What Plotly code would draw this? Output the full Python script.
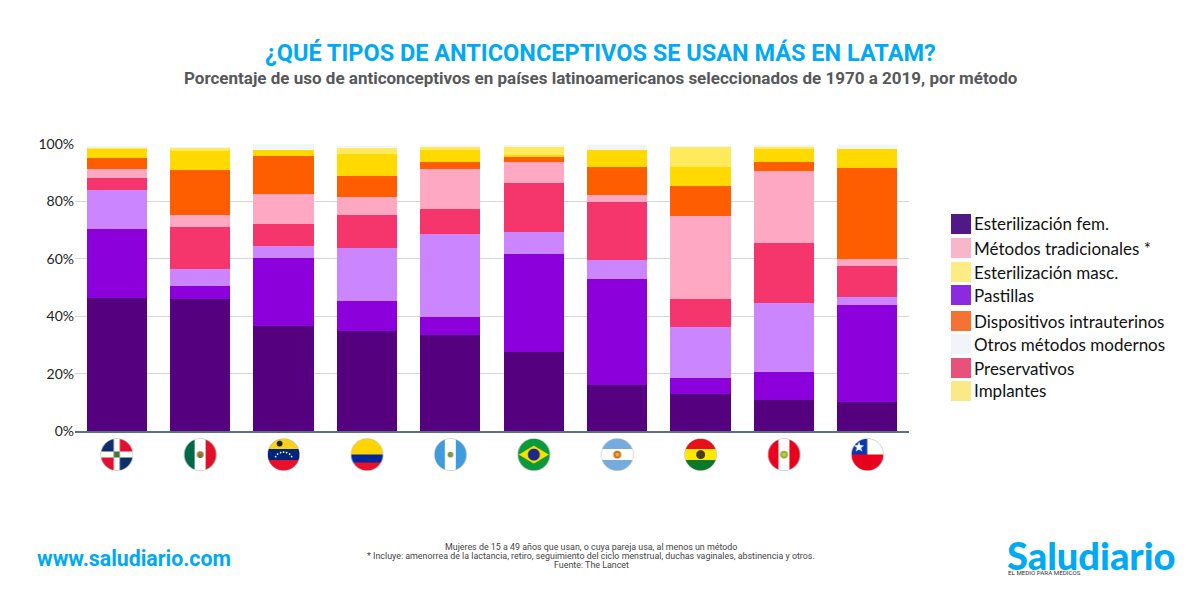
import base64
import struct
import zlib
import numpy as np
import plotly.graph_objects as go

# Countries in chart order
paises = ["República Dominicana", "México", "Venezuela", "Colombia", "Guatemala",
          "Brasil", "Argentina", "Bolivia", "Perú", "Chile"]

# Percent of use per method (bottom to top of the stack)
esterilizacion_fem = [46.2, 46.0, 36.5, 35.0, 33.4, 27.4, 16.1, 12.8, 10.9, 10.1]
pastillas = [24.2, 4.5, 23.9, 10.2, 6.3, 34.3, 37.0, 5.8, 9.8, 33.7]
inyectables = [13.6, 5.8, 4.1, 18.4, 28.9, 7.6, 6.6, 17.8, 23.9, 2.8]
preservativos = [4.3, 14.7, 7.5, 11.5, 8.8, 17.2, 20.1, 9.6, 20.8, 10.9]
tradicionales = [2.9, 4.4, 10.7, 6.3, 13.8, 7.2, 2.5, 28.8, 25.1, 2.3]
diu = [3.8, 15.7, 13.1, 7.5, 2.6, 2.1, 9.6, 10.4, 3.3, 31.7]
implantes = [3.6, 6.5, 2.2, 7.6, 4.2, 0.25, 6.0, 6.9, 4.6, 6.8]
esterilizacion_masc = [0.3, 1.1, 0.0, 2.2, 1.3, 3.0, 0.0, 6.9, 0.4, 0.0]
otros = [0.2, 0.2, 1.9, 0.3, 0.2, 0.3, 1.9, 0.2, 1.0, 1.2]

series = [
    ("Esterilización fem.", esterilizacion_fem, "#55007f"),
    ("Pastillas", pastillas, "#8c00dc"),
    ("Inyectables", inyectables, "#cb85ff"),
    ("Preservativos", preservativos, "#f5366c"),
    ("Métodos tradicionales *", tradicionales, "#ffa8c3"),
    ("Dispositivos intrauterinos", diu, "#ff5e00"),
    ("Implantes", implantes, "#ffd900"),
    ("Esterilización masc.", esterilizacion_masc, "#ffea5e"),
    ("Otros métodos modernos", otros, "#f0f5f8"),
]

# Axis ticks
ticks_y = [0, 20, 40, 60, 80, 100]
ticks_texto = ["0%", "20%", "40%", "60%", "80%", "100%"]

# Legend order and swatch colours differ from the bars in the original
leyenda = ["Esterilización fem.", "Métodos tradicionales *", "Esterilización masc.", "Pastillas",
           "Dispositivos intrauterinos", "Otros métodos modernos", "Preservativos", "Implantes"]
leyenda_colores = ["#4f1a87", "#f7b6ca", "#fdeb84", "#8a2be0", "#f57232", "#f2f5f8", "#e8517c", "#fbe887"]
leyenda_y = [214, 238, 262, 285, 311, 334, 358, 381]

AZUL = "#00a9f4"
ANGOSTA = "Lato"

# Flags are drawn into small png images, on a 66 unit grid at 2 pixels per unit
LADO = 132
v, u = np.mgrid[0:LADO, 0:LADO] / 2


def rgb(color):
    return [int(color[i:i + 2], 16) for i in (1, 3, 5)]


def caja(img, x, y, w, h, color):
    img[(u >= x) & (u < x + w) & (v >= y) & (v < y + h)] = rgb(color)


def punto(img, x, y, r, color):
    img[(u - x) ** 2 + (v - y) ** 2 < r ** 2] = rgb(color)


def poligono(img, puntos, color):
    # even-odd test against every edge
    dentro = np.zeros(u.shape, dtype=bool)
    for (x0, y0), (x1, y1) in zip(puntos, puntos[1:] + puntos[:1]):
        if y0 != y1:
            dentro ^= ((v < y0) != (v < y1)) & (u < x0 + (v - y0) * (x1 - x0) / (y1 - y0))
    img[dentro] = rgb(color)


def franjas_h(img, c1, c2, c3):
    caja(img, 0, 0, 66, 22, c1)
    caja(img, 0, 22, 66, 22, c2)
    caja(img, 0, 44, 66, 22, c3)


def franjas_v(img, c1, c2, c3):
    caja(img, 0, 0, 22, 66, c1)
    caja(img, 22, 0, 22, 66, c2)
    caja(img, 44, 0, 22, 66, c3)


def dominicana(img):
    caja(img, 0, 0, 66, 66, "#ffffff")
    caja(img, 0, 0, 27, 27, "#0b2f6b")
    caja(img, 39, 0, 27, 27, "#e01030")
    caja(img, 0, 39, 27, 27, "#e01030")
    caja(img, 39, 39, 27, 27, "#0b2f6b")
    caja(img, 27, 27, 12, 12, "#2f7d3a")
    punto(img, 33, 33, 3, "#8a5a2a")


def mexico(img):
    franjas_v(img, "#006847", "#ffffff", "#e0102a")
    punto(img, 33, 33, 7, "#a8763e")
    punto(img, 33, 36, 3.5, "#4f7d3a")


def venezuela(img):
    franjas_h(img, "#fcd116", "#00247d", "#e8102a")
    punto(img, 25, 11, 6, "#222222")
    for x, y in [(17, 37), (21, 32), (27, 29), (33, 28), (39, 29), (45, 32), (49, 37)]:
        punto(img, x, y, 1.6, "#ffffff")


def colombia(img):
    caja(img, 0, 0, 66, 33, "#ffd500")
    caja(img, 0, 33, 66, 16, "#00289c")
    caja(img, 0, 49, 66, 17, "#e8102a")


def guatemala(img):
    franjas_v(img, "#3f9bdc", "#ffffff", "#3f9bdc")
    punto(img, 33, 33, 6, "#7d9a4a")


def brasil(img):
    caja(img, 0, 0, 66, 66, "#0a9a3a")
    poligono(img, [(3, 33), (33, 15), (63, 33), (33, 51)], "#fde000")
    punto(img, 33, 33, 12, "#1b2a8a")


def argentina(img):
    franjas_h(img, "#74acdf", "#ffffff", "#74acdf")
    punto(img, 33, 33, 8, "#c9741a")
    punto(img, 33, 33, 4, "#e8a850")


def bolivia(img):
    franjas_h(img, "#e8101a", "#fde800", "#0a7a2a")
    punto(img, 33, 33, 9, "#4a3a20")


def peru(img):
    franjas_v(img, "#e8001c", "#ffffff", "#e8001c")
    punto(img, 33, 33, 8, "#8cb83a")
    punto(img, 33, 33, 3.5, "#e0c040")


def chile(img):
    caja(img, 0, 0, 66, 33, "#ffffff")
    caja(img, 0, 33, 66, 33, "#e8001c")
    caja(img, 0, 0, 33, 33, "#0b36b0")
    poligono(img, [(16, 7), (18.6, 14.4), (26.5, 14.6), (20.2, 19.4), (22.5, 27), (16, 22.5),
                   (9.5, 27), (11.8, 19.4), (5.5, 14.6), (13.4, 14.4)], "#ffffff")


def png(pintar):
    img = np.zeros((LADO, LADO, 3), dtype=np.uint8)
    pintar(img)
    # grey ring and circular cut-out
    dist = np.hypot(u - 33, v - 33)
    img[dist > 31.5] = rgb("#b5b5b5")
    alfa = np.where(dist <= 32.5, 255, 0).astype(np.uint8)
    filas = np.dstack([img, alfa])
    crudo = b"".join(b"\x00" + fila.tobytes() for fila in filas)

    def bloque(tipo, datos):
        return struct.pack(">I", len(datos)) + tipo + datos + struct.pack(">I", zlib.crc32(tipo + datos))

    archivo = (b"\x89PNG\r\n\x1a\n" + bloque(b"IHDR", struct.pack(">IIBBBBB", LADO, LADO, 8, 6, 0, 0, 0))
               + bloque(b"IDAT", zlib.compress(crudo)) + bloque(b"IEND", b""))
    return "data:image/png;base64," + base64.b64encode(archivo).decode()


banderas = [png(f) for f in (dominicana, mexico, venezuela, colombia, guatemala,
                             brasil, argentina, bolivia, peru, chile)]

fig = go.Figure()

for nombre, valores, color in series:
    fig.add_trace(go.Bar(x=paises, y=valores, name=nombre, marker_color=color, marker_line_width=0))


# Page pixels to paper coordinates (margins are zero, so the paper is the page)
def px_x(x):
    return x / 1200


def px_y(y):
    return 1 - y / 600


def texto(x, y, s, size, color, family, anchor="center", weight="normal"):
    fig.add_annotation(xref="paper", yref="paper", x=px_x(x), y=px_y(y), text=s, showarrow=False,
                       xanchor=anchor, yanchor="middle",
                       font=dict(size=size, color=color, family=family, weight=weight))


texto(600, 53, "¿QUÉ TIPOS DE ANTICONCEPTIVOS SE USAN MÁS EN LATAM?", 23.5, AZUL, "Roboto", weight="bold")
texto(601, 78, "Porcentaje de uso de anticonceptivos en países latinoamericanos seleccionados de 1970 a 2019, por método",
      17, "#57585a", "Roboto", weight="bold")
texto(35, 558, "www.saludiario.com", 21.3, AZUL, "Roboto", "left", weight="bold")
texto(591, 547, "Mujeres de 15 a 49 años que usan, o cuya pareja usa, al menos un método", 8.9, "#444444", "Roboto")
texto(591, 556, "* Incluye: amenorrea de la lactancia, retiro, seguimiento del ciclo menstrual, duchas vaginales, abstinencia y otros.",
      8.9, "#444444", "Roboto")
texto(591, 565, "Fuente: The Lancet", 8.9, "#444444", "Roboto")
texto(1005, 555, "Saludiario", 38, AZUL, "Lato", "left", weight=900)
texto(1006, 573, "EL MEDIO PARA MÉDICOS", 6.2, "#333333", "Roboto", "left")

# Hand drawn legend, same as the original's block of swatches
for nombre, color, y in zip(leyenda, leyenda_colores, leyenda_y):
    fig.add_shape(type="rect", xref="paper", yref="paper", x0=px_x(951), x1=px_x(971), y0=px_y(y), y1=px_y(y + 20),
                  fillcolor=color, line_width=0)
    texto(972, y + 10, nombre, 17, "#111111", ANGOSTA, "left")

# Flags sit under each bar, one category step apart
paso = 834 / len(paises)
fig.update_layout(
    barmode="stack",
    bargap=0.28,
    width=1200,
    height=600,
    showlegend=False,
    plot_bgcolor="white",
    paper_bgcolor="white",
    margin=dict(l=0, r=0, t=0, b=0),
    images=[dict(source=src, xref="paper", yref="paper", x=px_x(75 + paso * (i + 0.5)), y=px_y(438),
                 sizex=33 / 1200, sizey=33 / 600, xanchor="center", yanchor="top", sizing="stretch", layer="above")
            for i, src in enumerate(banderas)],
)
fig.update_xaxes(domain=[75 / 1200, 909 / 1200], showticklabels=False, ticks="", showgrid=False, automargin=False,
                 showline=True, linecolor="#5a7088", linewidth=2, categoryorder="array", categoryarray=paises)
fig.update_yaxes(domain=[1 - 431 / 600, 1 - 144 / 600], range=[0, 100], tickvals=ticks_y, ticktext=ticks_texto,
                 automargin=False, showgrid=True, gridcolor="#d4d6da", gridwidth=1, zeroline=False,
                 tickfont=dict(size=14, color="#222222", family=ANGOSTA))

# Drop the default page margin so the 1200x600 figure fills the window
fig.write_html("out.html", config=dict(displayModeBar=False),
               post_script="document.body.style.margin='0';document.body.style.overflow='hidden';")
